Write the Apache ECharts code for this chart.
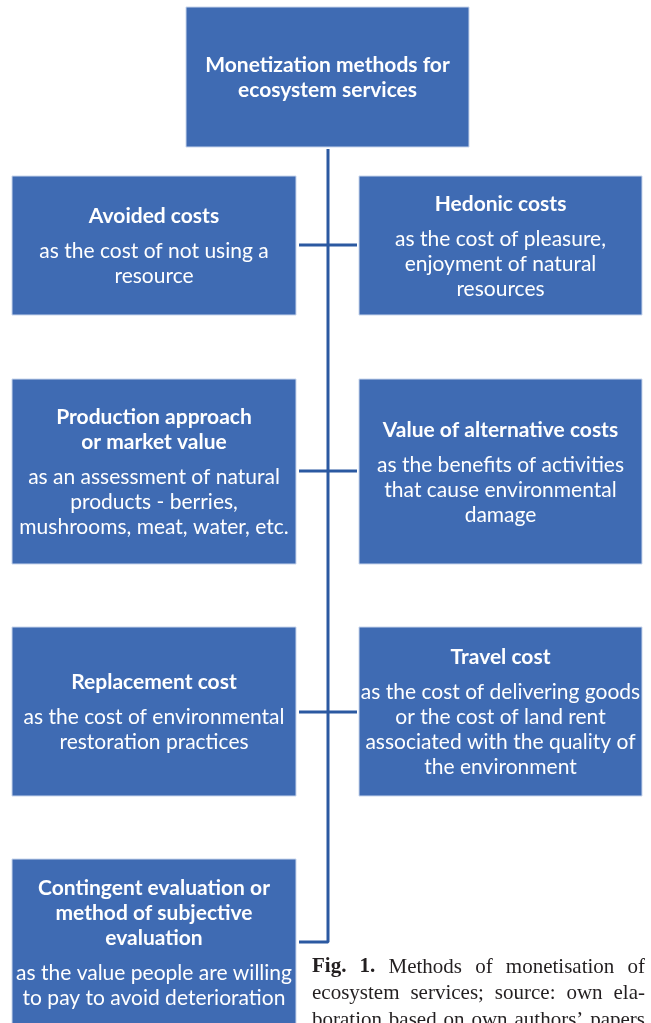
<!DOCTYPE html>
<html>
<head>
<meta charset="utf-8">
<script src="https://cdn.jsdelivr.net/npm/echarts@6/dist/echarts.min.js"></script>
<style>
  html, body { margin: 0; padding: 0; background: #fff; }
  #main { width: 651px; height: 1023px; }
</style>
</head>
<body>
<div id="main"></div>
<script>
// box headings (bold) and the explanation lines under them
const boxTitles = [
    ['Monetization methods for', 'ecosystem services'],
    ['Avoided costs'],
    ['Hedonic costs'],
    ['Production approach', 'or market value'],
    ['Value of alternative costs'],
    ['Replacement cost'],
    ['Travel cost'],
    ['Contingent evaluation or', 'method of subjective', 'evaluation']
];
const boxTexts = [
    [],
    ['as the cost of not using a', 'resource'],
    ['as the cost of pleasure,', 'enjoyment of natural', 'resources'],
    ['as an assessment of natural', 'products - berries,', 'mushrooms, meat, water, etc.'],
    ['as the benefits of activities', 'that cause environmental', 'damage'],
    ['as the cost of environmental', 'restoration practices'],
    ['as the cost of delivering goods', 'or the cost of land rent', 'associated with the quality of', 'the environment'],
    ['as the value people are willing', 'to pay to avoid deterioration']
];
// box extents in diagram units: [left, top, right, bottom]
const boxExtents = [
    [186, 7, 469, 147],
    [12, 176, 296, 315],
    [359, 176, 642, 315],
    [12, 379, 296, 564],
    [359, 379, 642, 564],
    [12, 627, 296, 796],
    [359, 627, 642, 796],
    [12, 859, 296, 1026]
];
// connector: trunk from the top box down to the last box, and side branches
const trunkPoints = [[328, 149], [328, 942], [299, 942]];
const branchY = [245, 471, 712];
const branchX = [299, 357];

// caption, first word group is bold
const captionLines = [
    ['Fig. 1.', 'Methods of monetisation of'],
    ['', 'ecosystem services; source: own ela-'],
    ['', 'boration based on own authors\u2019 papers']
];

var dom = document.getElementById('main');
var myChart = echarts.init(dom, null, { renderer: 'canvas' });

const boxColor = '#3f6bb3';
const lineColor = '#2b59a1';
const boxFont = 'Lato, "Open Sans", sans-serif';
const capFont = '"Liberation Serif", serif';
const capSize = 21;

const renderBox = function (params, api) {
    let i = params.dataIndex;
    let p0 = api.coord([api.value(0), api.value(1)]);
    let p1 = api.coord([api.value(2), api.value(3)]);
    let parts = [];
    boxTitles[i].forEach(t => parts.push('{t|' + t + '}'));
    if (boxTexts[i].length) {
        parts.push('{s| }');
        boxTexts[i].forEach(t => parts.push('{d|' + t + '}'));
    }
    return {
        type: 'group',
        children: [
            {
                type: 'rect',
                shape: { x: p0[0], y: p0[1], width: p1[0] - p0[0], height: p1[1] - p0[1] },
                style: { fill: boxColor, stroke: '#c9d6ec', lineWidth: 1 }
            },
            {
                type: 'text',
                x: (p0[0] + p1[0]) / 2,
                y: (p0[1] + p1[1]) / 2 + 1,
                style: {
                    text: parts.join('\n'),
                    align: 'center',
                    verticalAlign: 'middle',
                    fill: '#fff',
                    rich: {
                        t: { fontFamily: boxFont, fontWeight: 'bold', fontSize: 21, lineHeight: 25, fill: '#fff', align: 'center' },
                        s: { fontSize: 4, lineHeight: 10 },
                        d: { fontFamily: boxFont, fontSize: 21, lineHeight: 25, fill: '#fff', align: 'center' }
                    }
                }
            }
        ]
    };
};

let series = [
    {
        type: 'custom',
        renderItem: renderBox,
        data: boxExtents,
        z: 3,
        silent: true
    },
    {
        type: 'line',
        data: trunkPoints,
        symbol: 'none',
        lineStyle: { color: lineColor, width: 3 },
        z: 2,
        silent: true
    }
];
branchY.forEach(y => {
    series.push({
        type: 'line',
        data: branchX.map(x => [x, y]),
        symbol: 'none',
        lineStyle: { color: lineColor, width: 3 },
        z: 2,
        silent: true
    });
});

// justified caption: measure the words and spread them across the column
const ctx = document.createElement('canvas').getContext('2d');
const capLeft = 312, capRight = 645, capTop = 967, capStep = 26.5;
let captionGraphics = [];
captionLines.forEach((l, i) => {
    let words = [];
    if (l[0]) l[0].split(' ').forEach(w => words.push({ w: w, bold: true }));
    l[1].split(' ').forEach(w => words.push({ w: w, bold: false }));
    let total = 0;
    words.forEach(o => {
        ctx.font = (o.bold ? 'bold ' : '') + capSize + 'px ' + capFont;
        o.width = ctx.measureText(o.w).width;
        total += o.width;
    });
    let gap = Math.max(3, (capRight - capLeft - total) / (words.length - 1));
    let x = capLeft;
    words.forEach(o => {
        captionGraphics.push({
            type: 'text',
            x: x,
            y: capTop + i * capStep,
            style: {
                text: o.w,
                fontFamily: capFont,
                fontWeight: o.bold ? 'bold' : 'normal',
                fontSize: capSize,
                fill: '#231f20',
                align: 'left',
                verticalAlign: 'middle'
            }
        });
        x += o.width + gap;
    });
});

var option = {
    animation: false,
    grid: { left: 0, right: 0, top: 0, bottom: 0 },
    xAxis: { type: 'value', min: 0, max: 651, show: false },
    yAxis: { type: 'value', min: 0, max: 1023, inverse: true, show: false },
    graphic: captionGraphics,
    series: series
};

myChart.setOption(option);
window.addEventListener('resize', myChart.resize);
</script>
</body>
</html>
